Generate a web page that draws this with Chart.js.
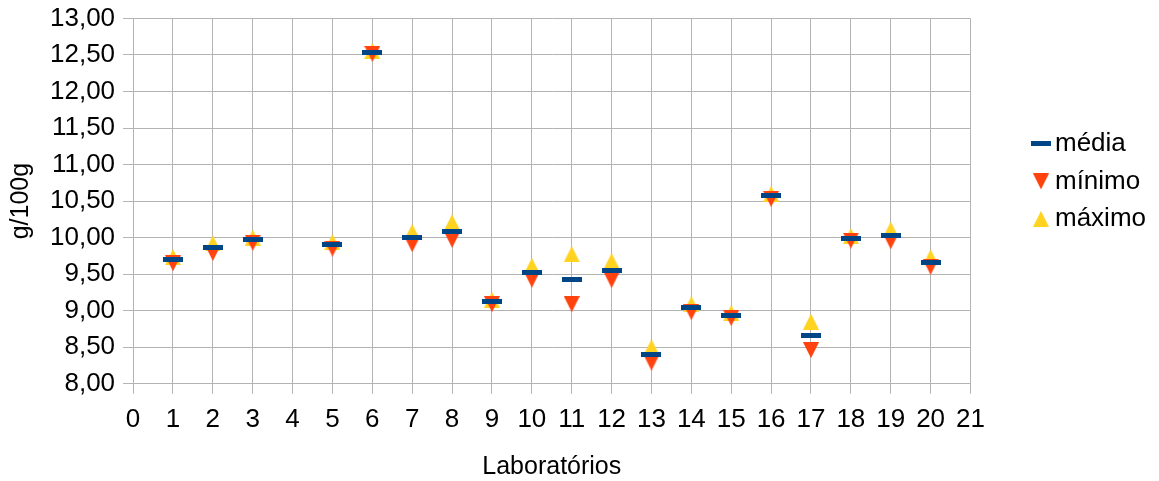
<!DOCTYPE html>
<html lang="pt">
<head>
    <meta charset="UTF-8">
    <title>Resultados por laboratório</title>
    <script src="https://cdn.jsdelivr.net/npm/chart.js"></script>
    <style>
        html, body { margin: 0; padding: 0; background: #fff; }
        #wrap { width: 1159px; height: 481px; }
    </style>
</head>
<body>
<div id="wrap"><canvas id="grafico" width="1159" height="481"></canvas></div>
<script>
    // --- Dados ---
    const laboratorios = [1, 2, 3, 5, 6, 7, 8, 9, 10, 11, 12, 13, 14, 15, 16, 17, 18, 19, 20];
    const media  = [9.70, 9.86, 9.975, 9.90, 12.53, 10.00, 10.08, 9.12, 9.52, 9.43, 9.55, 8.40, 9.04, 8.94, 10.575, 8.66, 9.99, 10.03, 9.66];
    const minimo = [9.65, 9.79, 9.93, 9.85, 12.515, 9.91, 9.97, 9.09, 9.425, 9.09, 9.42, 8.29, 8.98, 8.90, 10.53, 8.46, 9.96, 9.95, 9.60];
    const maximo = [9.735, 9.92, 10.00, 9.94, 12.555, 10.08, 10.21, 9.15, 9.615, 9.775, 9.68, 8.50, 9.09, 8.97, 10.60, 8.85, 10.02, 10.11, 9.73];
    const eixoX = { min: 0, max: 21, passo: 1 };
    const eixoY = { min: 8, max: 13, passo: 0.5 };

    const FONTE = '"Liberation Sans", Arial, sans-serif';
    const GRADE = '#b3b3b3';
    const FOLGA_LEGENDA = 61;   // largura extra reservada à legenda
    const RECUO_LEGENDA = 58;   // quanto os itens da legenda andam para a direita

    // marcadores desenhados à parte (traço e triângulos centrados na caixa)
    function marcador(w, h, cor, desenho) {
        const c = document.createElement('canvas');
        c.width = w; c.height = h;
        const g = c.getContext('2d');
        g.fillStyle = cor;
        desenho(g, w, h);
        return c;
    }
    const traco = marcador(20, 5, '#004586', (g, w, h) => g.fillRect(0, 0, w, h));
    const trianguloBaixo = marcador(16, 16, '#ff420e', (g, w, h) => {
        g.beginPath(); g.moveTo(0, 0); g.lineTo(w, 0); g.lineTo(w / 2, h); g.closePath(); g.fill();
    });
    const trianguloCima = marcador(16, 16, '#ffd320', (g, w, h) => {
        g.beginPath(); g.moveTo(w / 2, 0); g.lineTo(w, h); g.lineTo(0, h); g.closePath(); g.fill();
    });

    // alarga a caixa da legenda e empurra os itens para a direita
    const legendaAfastada = {
        id: 'legendaAfastada',
        beforeLayout(chart) {
            const lg = chart.legend;
            if (lg && !lg._alargada) {
                const fitOriginal = lg.fit.bind(lg);
                lg.fit = function () {
                    fitOriginal();
                    this.width += FOLGA_LEGENDA;
                };
                lg._alargada = true;
            }
        },
        afterLayout(chart) {
            if (chart.legend) chart.legend.left += RECUO_LEGENDA;
        }
    };

    const pontos = vals => laboratorios.map((lab, i) => ({ x: lab, y: vals[i] }));

    const serie = (label, vals, estilo) => ({
        label: label,
        data: pontos(vals),
        pointStyle: estilo,
        pointRadius: 8,
        pointHoverRadius: 8,
        showLine: false
    });

    new Chart(document.getElementById('grafico'), {
        type: 'scatter',
        data: {
            datasets: [
                serie('média', media, traco),
                serie('mínimo', minimo, trianguloBaixo),
                serie('máximo', maximo, trianguloCima)
            ]
        },
        plugins: [legendaAfastada],
        options: {
            responsive: false,
            animation: false,
            events: [],
            layout: { padding: { top: 0, left: 6, right: 0, bottom: 0 } },
            scales: {
                x: {
                    type: 'linear',
                    min: eixoX.min,
                    max: eixoX.max,
                    ticks: {
                        stepSize: eixoX.passo,
                        color: '#000',
                        padding: 10,
                        maxRotation: 0,
                        font: { family: FONTE, size: 26 }
                    },
                    grid: { color: GRADE, tickLength: 10 },
                    border: { color: GRADE },
                    title: {
                        display: true,
                        text: 'Laboratórios',
                        color: '#000',
                        padding: { top: 8, bottom: 0 },
                        font: { family: FONTE, size: 25, lineHeight: 1.12 }
                    }
                },
                y: {
                    min: eixoY.min,
                    max: eixoY.max,
                    ticks: {
                        stepSize: eixoY.passo,
                        color: '#000',
                        padding: 8,
                        font: { family: FONTE, size: 26, lineHeight: 0.8 },
                        callback: v => v.toFixed(2).replace('.', ',')
                    },
                    grid: { color: GRADE, tickLength: 10 },
                    border: { color: GRADE },
                    title: {
                        display: true,
                        text: 'g/100g',
                        color: '#000',
                        padding: { top: 0, bottom: 6 },
                        font: { family: FONTE, size: 25 }
                    }
                }
            },
            plugins: {
                legend: {
                    position: 'right',
                    align: 'start',
                    title: { display: true, text: '', padding: { top: 59, bottom: 46 }, font: { size: 12 } },
                    labels: {
                        usePointStyle: true,
                        pointStyleWidth: 2,
                        color: '#000',
                        padding: 11.5,
                        font: { family: FONTE, size: 26 }
                    }
                },
                tooltip: { enabled: false }
            }
        }
    });
</script>
</body>
</html>
